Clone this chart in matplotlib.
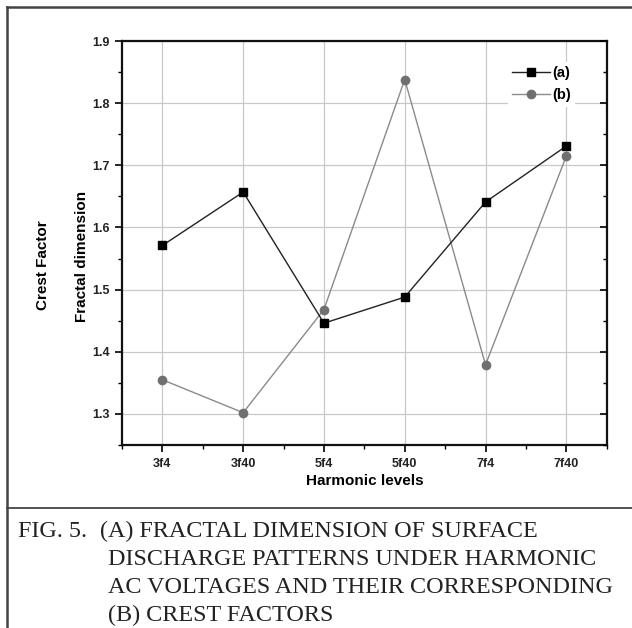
import matplotlib
matplotlib.use("Agg")
import matplotlib.pyplot as plt
from matplotlib.lines import Line2D
from matplotlib.ticker import MultipleLocator

categories = ["3f4", "3f40", "5f4", "5f40", "7f4", "7f40"]
series_a = [1.571, 1.657, 1.446, 1.488, 1.641, 1.731]
series_b = [1.355, 1.302, 1.468, 1.838, 1.379, 1.715]
yticks = [1.3, 1.4, 1.5, 1.6, 1.7, 1.8, 1.9]

plt.rcParams['font.family'] = ['Liberation Sans', 'DejaVu Sans']

fig = plt.figure(figsize=(6.32, 6.28), dpi=100)
ax = fig.add_axes([0.193, 0.2914, 0.767, 0.6433])

x = list(range(len(categories)))
ax.plot(x, series_a, color='#222222', lw=1.0, marker='s', ms=6.3,
        mfc='black', mec='black', label='(a)', zorder=4)
ax.plot(x, series_b, color='#8a8a8a', lw=1.0, marker='o', ms=6,
        mfc='#707070', mec='#707070', label='(b)', zorder=3)

ax.set_xlim(-0.5, 5.5)
ax.set_ylim(1.25, 1.9)
ax.set_xticks(x)
ax.set_xticklabels(categories)
ax.set_yticks(yticks)
ax.set_yticklabels([f"{v:.1f}" for v in yticks])
ax.xaxis.set_minor_locator(MultipleLocator(0.5))
ax.yaxis.set_minor_locator(MultipleLocator(0.05))
ax.grid(True, which='major', color='#c8c8c8', lw=0.9)
ax.set_axisbelow(True)

for s in ax.spines.values():
    s.set_linewidth(1.6)
    s.set_color('#111111')

ax.tick_params(axis='both', which='major', direction='out', length=5, width=1.2,
               labelsize=9, pad=4)
ax.tick_params(axis='both', which='minor', direction='out', length=3, width=1.0)
for lab in ax.get_xticklabels() + ax.get_yticklabels():
    lab.set_fontweight('bold')
    lab.set_color('#222222')

# inward ticks on the right spine (no labels)
ax2 = ax.twinx()
ax2.set_ylim(ax.get_ylim())
ax2.set_yticks(yticks)
ax2.yaxis.set_minor_locator(MultipleLocator(0.05))
ax2.tick_params(axis='y', which='major', direction='in', length=5, width=1.2,
                labelright=False)
ax2.tick_params(axis='y', which='minor', direction='in', length=3, width=1.0)
for s in ax2.spines.values():
    s.set_visible(False)

ax.set_xlabel('Harmonic levels', fontsize=11, fontweight='bold', labelpad=3)

fig.text(0.130, 0.592, 'Fractal dimension', rotation=90, ha='center', va='center',
         fontsize=11, fontweight='bold')
fig.text(0.068, 0.578, 'Crest Factor', rotation=90, ha='center', va='center',
         fontsize=11, fontweight='bold')

leg = ax2.legend(*ax.get_legend_handles_labels(), loc='upper right',
                 bbox_to_anchor=(0.935, 0.948), frameon=True,
                 fontsize=10.5, handlelength=2.6, handletextpad=0.15, labelspacing=0.55,
                 borderpad=0.3, borderaxespad=0)
leg.get_frame().set_edgecolor('none')
leg.get_frame().set_facecolor('white')
leg.get_frame().set_alpha(1)
for t in leg.get_texts():
    t.set_fontweight('bold')

# frame lines
frame_col = '#444444'
fig.add_artist(Line2D([7/632, 7/632], [0, 1 - 7/628], transform=fig.transFigure,
                      color=frame_col, lw=1.8))
fig.add_artist(Line2D([7/632, 1], [1 - 7/628, 1 - 7/628], transform=fig.transFigure,
                      color=frame_col, lw=1.8))
fig.add_artist(Line2D([7/632, 1], [1 - 508/628, 1 - 508/628], transform=fig.transFigure,
                      color=frame_col, lw=1.3))

cap_kw = dict(fontsize=17.4, family=['Liberation Serif', 'DejaVu Serif'], color='#222222',
              ha='left', va='baseline')
fig.text(18/632, 1 - 537/628, 'FIG. 5.', **cap_kw)
fig.text(100/632, 1 - 537/628, '(A) FRACTAL DIMENSION OF SURFACE', **cap_kw)
fig.text(108/632, 1 - 565/628, 'DISCHARGE PATTERNS UNDER HARMONIC', **cap_kw)
fig.text(108/632, 1 - 593/628, 'AC VOLTAGES AND THEIR CORRESPONDING', **cap_kw)
fig.text(108/632, 1 - 621/628, '(B) CREST FACTORS', **cap_kw)

fig.savefig('out.png', dpi=100)
